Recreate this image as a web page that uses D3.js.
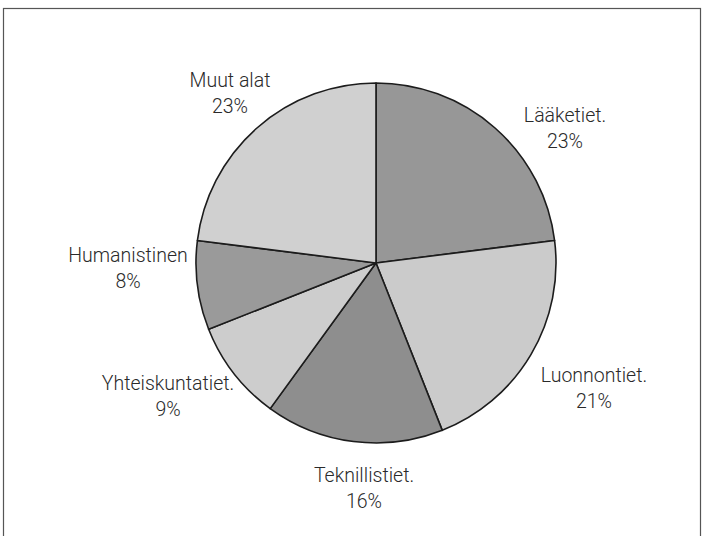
<!DOCTYPE html>
<html>
<head>
<meta charset="utf-8">
<script src="https://cdn.jsdelivr.net/npm/d3@7"></script>
<style>
  html, body { margin: 0; padding: 0; background: #ffffff; }
  svg { display: block; }
</style>
</head>
<body>
<svg id="chart" width="708" height="536"></svg>
<script>
// ---- data ----
const categories = ["Lääketiet.", "Luonnontiet.", "Teknillistiet.", "Yhteiskuntatiet.", "Humanistinen", "Muut alat"];
const values = [23, 21, 16, 9, 8, 23];
const percentLabels = ["23%", "21%", "16%", "9%", "8%", "23%"];

// ---- styling / layout (not data) ----
const sliceFills = ["#979797", "#cbcbcb", "#8e8e8e", "#cdcdcd", "#9a9a9a", "#d0d0d0"];
// label block centre, relative to pie centre
const labelOffsets = [[189, -135], [218, 125], [-12, 225], [-208, 133], [-248, 5], [-146, -170]];

const W = 708, H = 536;
const cx = 376, cy = 263, R = 180;

const svg = d3.select("#chart");

// frame
svg.append("rect")
  .attr("x", 3.5).attr("y", 8.5)
  .attr("width", 697).attr("height", 540)
  .attr("fill", "none")
  .attr("stroke", "#555")
  .attr("stroke-width", 1.2);

const data = categories.map((c, i) => ({ name: c, value: values[i], pct: percentLabels[i], i }));

const pie = d3.pie().value(d => d.value).sort(null).startAngle(0).endAngle(2 * Math.PI);
const arc = d3.arc().innerRadius(0).outerRadius(R);

const g = svg.append("g").attr("transform", `translate(${cx},${cy})`);

g.selectAll("path.slice")
  .data(pie(data))
  .join("path")
  .attr("class", "slice")
  .attr("d", arc)
  .attr("fill", d => sliceFills[d.data.i])
  .attr("stroke", "#1c1c1c")
  .attr("stroke-width", 1.6)
  .attr("stroke-linejoin", "round");

const labels = g.selectAll("g.lab")
  .data(pie(data))
  .join("g")
  .attr("class", "lab")
  .attr("transform", d => `translate(${labelOffsets[d.data.i][0]},${labelOffsets[d.data.i][1]})`);

labels.append("text")
  .attr("text-anchor", "middle")
  .attr("y", -6)
  .attr("font-family", "Roboto, 'Liberation Sans', sans-serif")
  .attr("font-weight", 300)
  .attr("font-size", 19.5)
  .attr("fill", "#2a2a2a")
  .text(d => d.data.name);

labels.append("text")
  .attr("text-anchor", "middle")
  .attr("y", 20)
  .attr("font-family", "Roboto, 'Liberation Sans', sans-serif")
  .attr("font-weight", 300)
  .attr("font-size", 19.5)
  .attr("fill", "#2a2a2a")
  .text(d => d.data.pct);
</script>
</body>
</html>
